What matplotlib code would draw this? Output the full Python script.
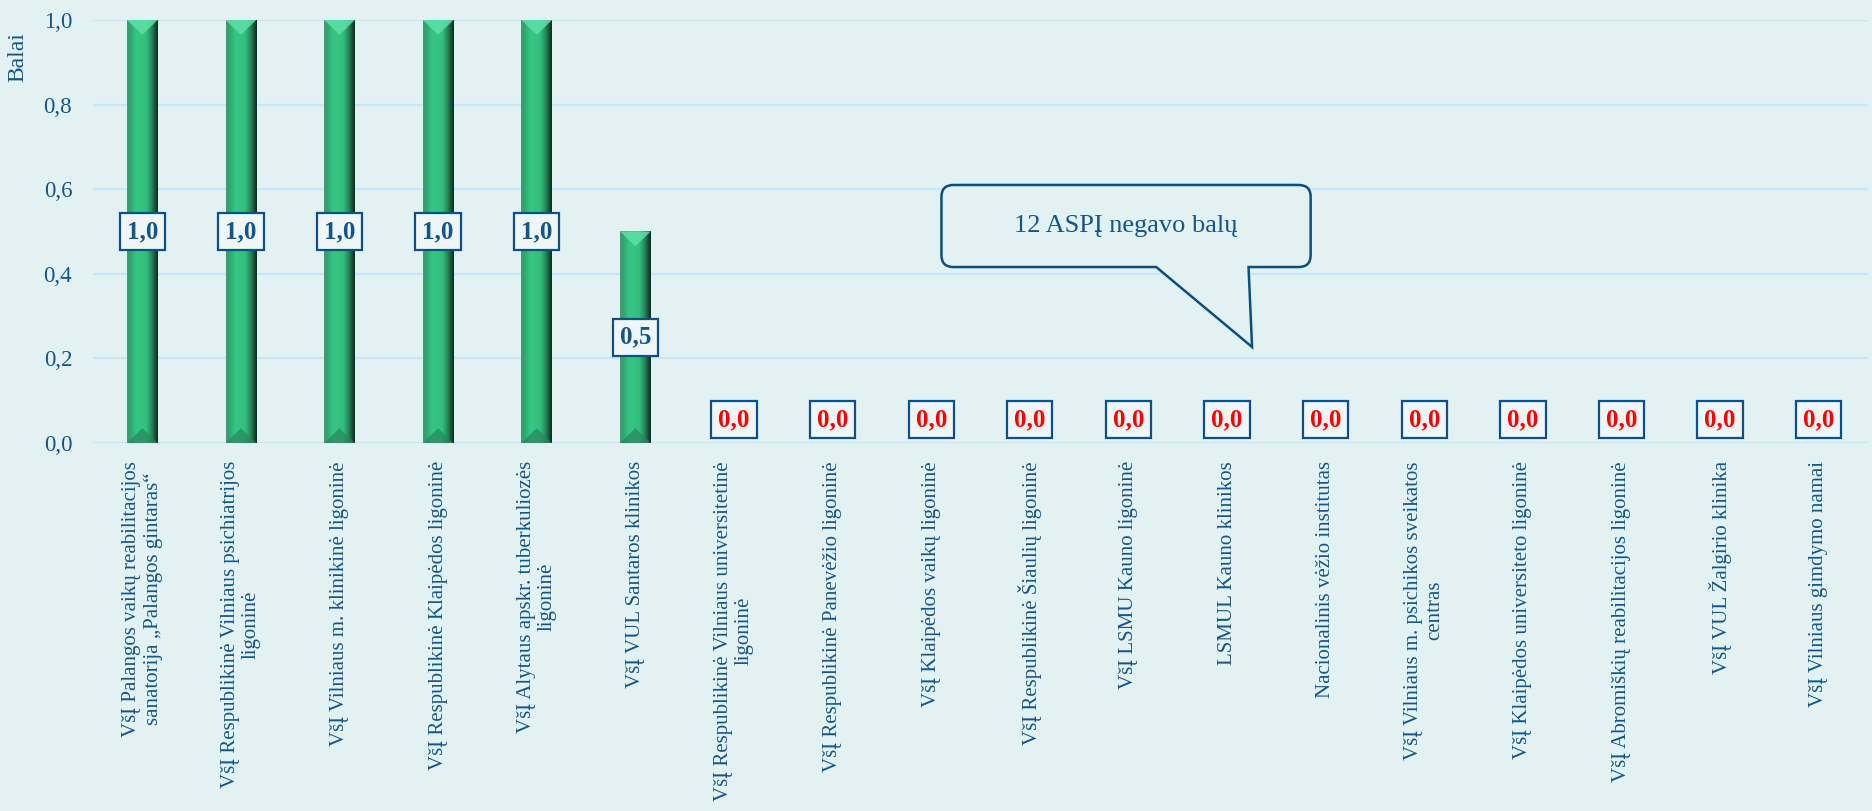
import matplotlib.pyplot as plt
import numpy as np
from matplotlib.colors import LinearSegmentedColormap
from matplotlib.path import Path
from matplotlib.patches import PathPatch, Polygon

plt.rcParams['font.family'] = ['Liberation Serif', 'DejaVu Serif']

istaigos = [
    'VšĮ Palangos vaikų reabilitacijos\nsanatorija „Palangos gintaras“',
    'VšĮ Respublikinė Vilniaus psichiatrijos\nligoninė',
    'VšĮ Vilniaus m. klinikinė ligoninė',
    'VšĮ Respublikinė Klaipėdos ligoninė',
    'VšĮ Alytaus apskr. tuberkuliozės\nligoninė',
    'VšĮ VUL Santaros klinikos',
    'VšĮ Respublikinė Vilniaus universitetinė\nligoninė',
    'VšĮ Respublikinė Panevėžio ligoninė',
    'VšĮ Klaipėdos vaikų ligoninė',
    'VšĮ Respublikinė Šiaulių ligoninė',
    'VšĮ LSMU Kauno ligoninė',
    'LSMUL Kauno klinikos',
    'Nacionalinis vėžio institutas',
    'VšĮ Vilniaus m. psichikos sveikatos\ncentras',
    'VšĮ Klaipėdos universiteto ligoninė',
    'VšĮ Abromiškių reabilitacijos ligoninė',
    'VšĮ VUL Žalgirio klinika',
    'VšĮ Vilniaus gimdymo namai',
]
balai = [1.0, 1.0, 1.0, 1.0, 1.0, 0.5, 0, 0, 0, 0, 0, 0, 0, 0, 0, 0, 0, 0]
y_ticks = [0.0, 0.2, 0.4, 0.6, 0.8, 1.0]
y_labels = ['0,0', '0,2', '0,4', '0,6', '0,8', '1,0']
pastaba = '12 ASPĮ negavo balų'

fonas = '#E2F1F2'
melyna = '#14568A'

fig = plt.figure(figsize=(18.72, 8.11), dpi=100, facecolor=fonas)
ax = fig.add_axes([93/1872, 1 - 443/811, 1775/1872, 423/811])
ax.set_facecolor(fonas)

x = np.arange(len(balai))
w = 0.31

# cilindro efektas
zalia = LinearSegmentedColormap.from_list('zalia', [
    (0.0, '#4c9877'), (0.07, '#2ba36b'), (0.3, '#37c685'), (0.62, '#33c07f'),
    (0.8, '#25895a'), (0.92, '#17503a'), (1.0, '#0e291c')])
grad = np.linspace(0, 1, 64).reshape(1, -1)
for xi, v in zip(x, balai):
    if v <= 0:
        continue
    ax.imshow(grad, cmap=zalia, aspect='auto', extent=(xi - w/2, xi + w/2, 0, v),
              zorder=2, interpolation='bicubic')
    d = 0.035
    ax.add_patch(Polygon([(xi - w/2, v), (xi + w/2, v), (xi, v - d)],
                         closed=True, color='#5fe0a7', alpha=0.85, zorder=3, lw=0))
    ax.add_patch(Polygon([(xi - w/2, 0), (xi + w/2, 0), (xi, d)],
                         closed=True, color='#24875b', alpha=0.7, zorder=3, lw=0))

# reiksmiu etiketes
for xi, v in zip(x, balai):
    yy = v / 2 if v > 0 else 0.055
    spalva = melyna if v > 0 else '#FF0000'
    ax.text(xi, yy, f'{v:.1f}'.replace('.', ','), ha='center', va='center',
            fontsize=18, fontweight='bold', color=spalva, zorder=5,
            bbox=dict(boxstyle='square,pad=0.28', fc='#EEF6F8', ec='#0B5088', lw=1.6))

ax.set_xlim(-0.5, len(balai) - 0.5)
ax.set_ylim(0, 1)
ax.set_yticks(y_ticks)
ax.set_yticklabels(y_labels, fontsize=16.5, color=melyna)
ax.set_xticks(x)
ax.set_xticklabels(istaigos, rotation=90, fontsize=15, color=melyna,
                   ha='center', va='top', multialignment='center', linespacing=1.15)
ax.tick_params(axis='both', length=0)
ax.tick_params(axis='y', pad=15)
ax.tick_params(axis='x', pad=13)
ax.grid(axis='y', color='#C9E6F7', lw=1.6, zorder=0)
ax.set_axisbelow(True)
for s in ax.spines.values():
    s.set_visible(False)

fig.text(18/1872, 1 - 57/811, 'Balai', rotation=90, ha='center', va='center',
         fontsize=17, color=melyna)

# debeselis su uodega
L, R, T, B = 0.478, 0.686, 0.610, 0.416
rx, ry = 0.0068, 0.028
x1, x2, tip = 0.599, 0.651, (0.653, 0.227)
verts = [(L + rx, T), (R - rx, T), (R, T), (R, T - ry), (R, B + ry), (R, B), (R - rx, B),
         (x2, B), tip, (x1, B), (L + rx, B), (L, B), (L, B + ry), (L, T - ry), (L, T),
         (L + rx, T), (L + rx, T)]
codes = [Path.MOVETO, Path.LINETO, Path.CURVE3, Path.CURVE3, Path.LINETO, Path.CURVE3,
         Path.CURVE3, Path.LINETO, Path.LINETO, Path.LINETO, Path.LINETO, Path.CURVE3,
         Path.CURVE3, Path.LINETO, Path.CURVE3, Path.CURVE3, Path.CLOSEPOLY]
ax.add_patch(PathPatch(Path(verts, codes), transform=ax.transAxes, fc=fonas,
                       ec='#0B4F80', lw=1.8, zorder=6))
ax.text((L + R) / 2, (T + B) / 2, pastaba, transform=ax.transAxes, ha='center',
        va='center', fontsize=19, color=melyna, zorder=7)

fig.savefig('out.png', dpi=100, facecolor=fonas)
